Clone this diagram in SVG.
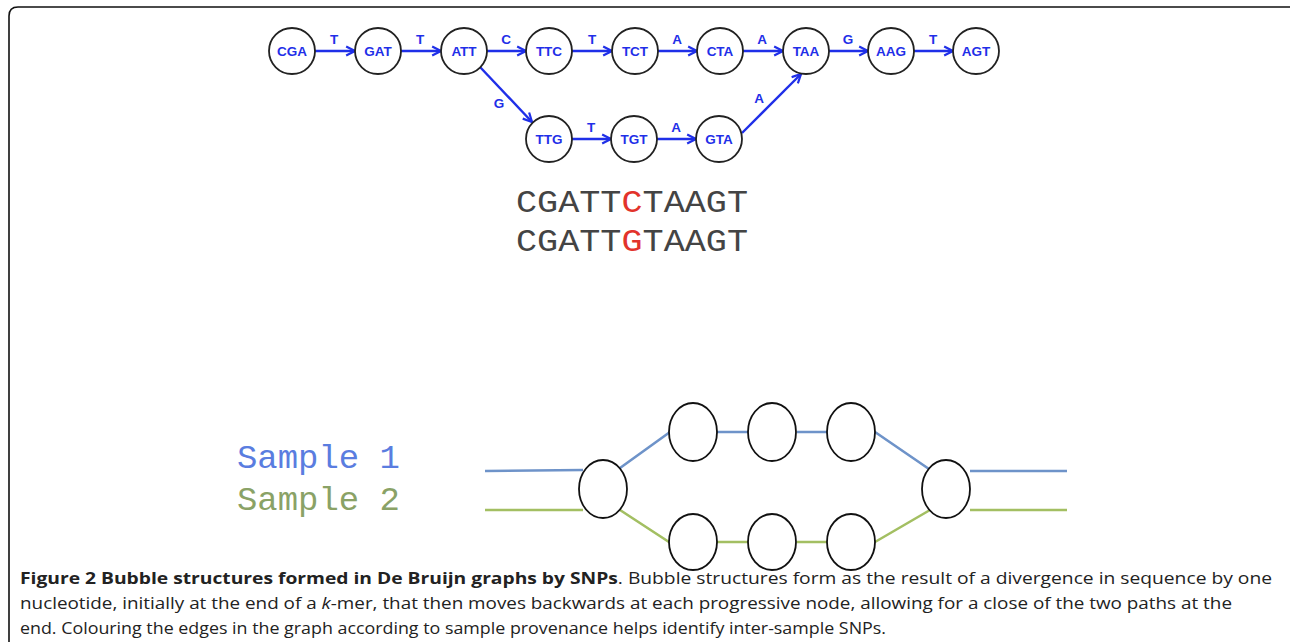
<svg xmlns="http://www.w3.org/2000/svg" width="1290" height="642" viewBox="0 0 1290 642">
<style>
.n{fill:#fff;stroke:#222;stroke-width:1.8}
.nt{font-family:"Liberation Sans",Arial,sans-serif;font-weight:bold;font-size:13.5px;fill:#1f2fe8;text-anchor:middle}
.el{font-family:"Liberation Sans",Arial,sans-serif;font-weight:bold;font-size:13.5px;fill:#1f2fe8;text-anchor:middle}
.e{stroke:#1f2fe8;stroke-width:2.4;fill:none;marker-end:url(#ah)}
.b{fill:#fff;stroke:#111;stroke-width:1.8}
.s1{stroke:#6e93c9;stroke-width:2.6;fill:none}
.s2{stroke:#a3bf62;stroke-width:2.6;fill:none}
.seq{font-family:"Liberation Mono","Courier New",monospace;font-size:31px;fill:#444}
.cap{font-family:"Open Sans","Noto Sans",sans-serif;font-size:16.5px;fill:#222}
</style>
<defs>
<marker id="ah" viewBox="0 0 10 10" refX="9" refY="5" markerWidth="4.6" markerHeight="4.6" orient="auto" markerUnits="strokeWidth">
<path d="M1,1 L9,5 L1,9" fill="none" stroke="#1f2fe8" stroke-width="2"/>
</marker>
</defs>
<rect width="1290" height="642" fill="#fff"/>
<path d="M9,642 L9,16 Q9,7 18,7 L1290,7" fill="none" stroke="#111" stroke-width="1.6"/>

<g id="connectors">
<line class="e" x1="315" y1="51" x2="355" y2="51"/>
<line class="e" x1="401" y1="51" x2="441" y2="51"/>
<line class="e" x1="487" y1="51" x2="526" y2="51"/>
<line class="e" x1="572" y1="51" x2="612" y2="51"/>
<line class="e" x1="658" y1="51" x2="697" y2="51"/>
<line class="e" x1="743" y1="51" x2="783" y2="51"/>
<line class="e" x1="829" y1="51" x2="868" y2="51"/>
<line class="e" x1="914" y1="51" x2="953" y2="51"/>
<line class="e" x1="480" y1="67" x2="532" y2="122"/>
<line class="e" x1="572" y1="139" x2="611" y2="139"/>
<line class="e" x1="657" y1="139" x2="696" y2="139"/>
<line class="e" x1="742" y1="133" x2="801" y2="74"/>
<text class="el" x="334" y="44">T</text>
<text class="el" x="420" y="44">T</text>
<text class="el" x="506" y="44">C</text>
<text class="el" x="592" y="44">T</text>
<text class="el" x="677" y="44">A</text>
<text class="el" x="762" y="44">A</text>
<text class="el" x="848" y="44">G</text>
<text class="el" x="933" y="44">T</text>
<text class="el" x="499" y="108">G</text>
<text class="el" x="591" y="132">T</text>
<text class="el" x="676" y="132">A</text>
<text class="el" x="759" y="103">A</text>

<path class="s1" d="M485,471 L583,470"/>
<path class="s1" d="M620,468 L670,432 L748,432 M797,432 L827,432 M875,432 L929,469"/>
<path class="s1" d="M970,471 L1067,471"/>
<path class="s2" d="M485,510 L583,510"/>
<path class="s2" d="M620,510 L669,542 L748,542 M797,542 L827,542 M875,542 L930,510"/>
<path class="s2" d="M970,510 L1067,510"/>
</g>

<g id="n-CGA"><circle class="n" cx="292" cy="51" r="23"/><text class="nt" x="292" y="56">CGA</text></g>
<g id="n-GAT"><circle class="n" cx="378" cy="51" r="23"/><text class="nt" x="378" y="56">GAT</text></g>
<g id="n-ATT"><circle class="n" cx="464" cy="51" r="23"/><text class="nt" x="464" y="56">ATT</text></g>
<g id="n-TTC"><circle class="n" cx="549" cy="51" r="23"/><text class="nt" x="549" y="56">TTC</text></g>
<g id="n-TCT"><circle class="n" cx="635" cy="51" r="23"/><text class="nt" x="635" y="56">TCT</text></g>
<g id="n-CTA"><circle class="n" cx="720" cy="51" r="23"/><text class="nt" x="720" y="56">CTA</text></g>
<g id="n-TAA"><circle class="n" cx="806" cy="51" r="23"/><text class="nt" x="806" y="56">TAA</text></g>
<g id="n-AAG"><circle class="n" cx="891" cy="51" r="23"/><text class="nt" x="891" y="56">AAG</text></g>
<g id="n-AGT"><circle class="n" cx="976" cy="51" r="23"/><text class="nt" x="976" y="56">AGT</text></g>
<g id="n-TTG"><circle class="n" cx="549" cy="139" r="23"/><text class="nt" x="549" y="144">TTG</text></g>
<g id="n-TGT"><circle class="n" cx="634" cy="139" r="23"/><text class="nt" x="634" y="144">TGT</text></g>
<g id="n-GTA"><circle class="n" cx="719" cy="139" r="23"/><text class="nt" x="719" y="144">GTA</text></g>

<g id="sequences">
<text class="seq" x="516" y="212" textLength="232" lengthAdjust="spacingAndGlyphs">CGATT<tspan fill="#e2332b">C</tspan>TAAGT</text>
<text class="seq" x="516" y="251" textLength="232" lengthAdjust="spacingAndGlyphs">CGATT<tspan fill="#e2332b">G</tspan>TAAGT</text>
</g>

<g id="legend">
<text x="237" y="468" font-family="'Liberation Mono','Courier New',monospace" font-size="33" fill="#5a7de0" textLength="163" lengthAdjust="spacingAndGlyphs">Sample 1</text>
<text x="237" y="510" font-family="'Liberation Mono','Courier New',monospace" font-size="33" fill="#8aa266" textLength="163" lengthAdjust="spacingAndGlyphs">Sample 2</text>
</g>

<g id="b-left"><ellipse class="b" cx="603" cy="489" rx="24" ry="29"/></g>
<g id="b-t1"><ellipse class="b" cx="693" cy="432" rx="24" ry="29"/></g>
<g id="b-t2"><ellipse class="b" cx="772" cy="432" rx="24" ry="29"/></g>
<g id="b-t3"><ellipse class="b" cx="851" cy="432" rx="24" ry="29"/></g>
<g id="b-b1"><ellipse class="b" cx="693" cy="542" rx="24" ry="28"/></g>
<g id="b-b2"><ellipse class="b" cx="772" cy="542" rx="24" ry="28"/></g>
<g id="b-b3"><ellipse class="b" cx="851" cy="542" rx="24" ry="28"/></g>
<g id="b-right"><ellipse class="b" cx="946" cy="489" rx="24" ry="29"/></g>

<g id="caption">
<text class="cap" x="20" y="584" textLength="1252" lengthAdjust="spacingAndGlyphs"><tspan font-weight="bold">Figure 2 Bubble structures formed in De Bruijn graphs by SNPs</tspan>. Bubble structures form as the result of a divergence in sequence by one</text>
<text class="cap" x="20" y="609" textLength="1212" lengthAdjust="spacingAndGlyphs">nucleotide, initially at the end of a <tspan font-style="italic">k</tspan>-mer, that then moves backwards at each progressive node, allowing for a close of the two paths at the</text>
<text class="cap" x="20" y="634" textLength="866" lengthAdjust="spacingAndGlyphs">end. Colouring the edges in the graph according to sample provenance helps identify inter-sample SNPs.</text>
</g>
</svg>
